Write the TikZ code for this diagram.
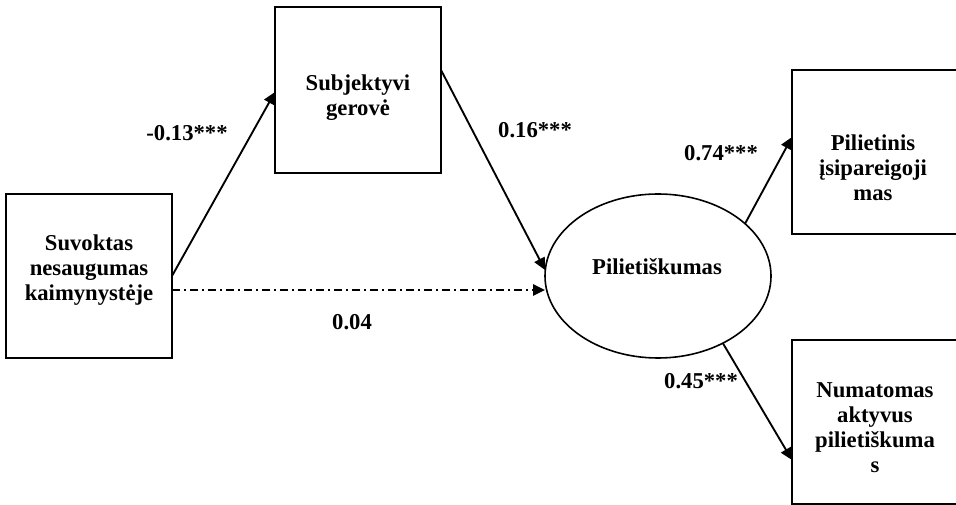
\documentclass[tikz,border=0pt]{standalone}
\usepackage{fontspec}
\setmainfont{Liberation Serif}
\usetikzlibrary{arrows.meta,shapes.geometric}
\begin{document}
\begin{tikzpicture}[x=0.75pt,y=-0.75pt,
  box/.style={draw,line width=1.5pt,rectangle,inner sep=0pt,outer sep=0pt,minimum width=124.5pt,minimum height=123pt},
  wide/.style={box,minimum width=150pt},
  oval/.style={draw,line width=1.2pt,ellipse,inner sep=0pt,outer sep=0pt,minimum width=169.5pt,minimum height=123pt},
  txt/.style={font=\fontsize{17}{18.75}\selectfont\bfseries,align=center,inner sep=0pt},
  conn/.style={line width=1.4pt,-{Triangle[length=9pt,width=8.5pt]}},
  dashdot/.style={conn,dash pattern=on 6pt off 3pt on 1.5pt off 3pt}]
\useasboundingbox (0,0) rectangle (956,505);
\clip (0,0) rectangle (956,505);
\fill[white] (0,0) rectangle (956,505);
% boxes
\node[box] (b1) at (89,276) {};
\node[box,minimum height=124.5pt] (b2) at (358,90) {};
\node[wide] (b3) at (892,152) {};
\node[wide] (b4) at (892,422) {};
\node[oval] (el) at (658,276) {};
% texts
\node[txt] (t1) at (89,270) {Suvoktas\\nesaugumas\\kaimynystėje};
\node[txt] (t2) at (358,98) {Subjektyvi\\gerovė};
\node[txt] (t3) at (873,168) {Pilietinis\\įsipareigoji\\mas};
\node[txt] (t4) at (875,428) {Numatomas\\aktyvus\\pilietiškuma\\s};
\node[txt] (te) at (657,267) {Pilietiškumas};
% connectors
\draw[conn] (b1.east) -- ([yshift=-1.5pt]b2.west);
\draw[conn] ([yshift=15pt]b2.east) -- ([yshift=4.5pt]el.west);
\draw[dashdot] ([yshift=-10.5pt]b1.east) -- ([yshift=-10.5pt]el.west);
\draw[conn] (el.31) -- ([yshift=11.25pt]b3.west);
\draw[conn] (el.-46) -- ([yshift=-28.5pt]b4.west);
% labels
\node[txt] (l1) at (187,133) {-0.13***};
\node[txt] (l2) at (535,130) {0.16***};
\node[txt] (l3) at (721,153) {0.74***};
\node[txt] (l4) at (352,322) {0.04};
\node[txt] (l5) at (701,381) {0.45***};
\end{tikzpicture}
\end{document}
